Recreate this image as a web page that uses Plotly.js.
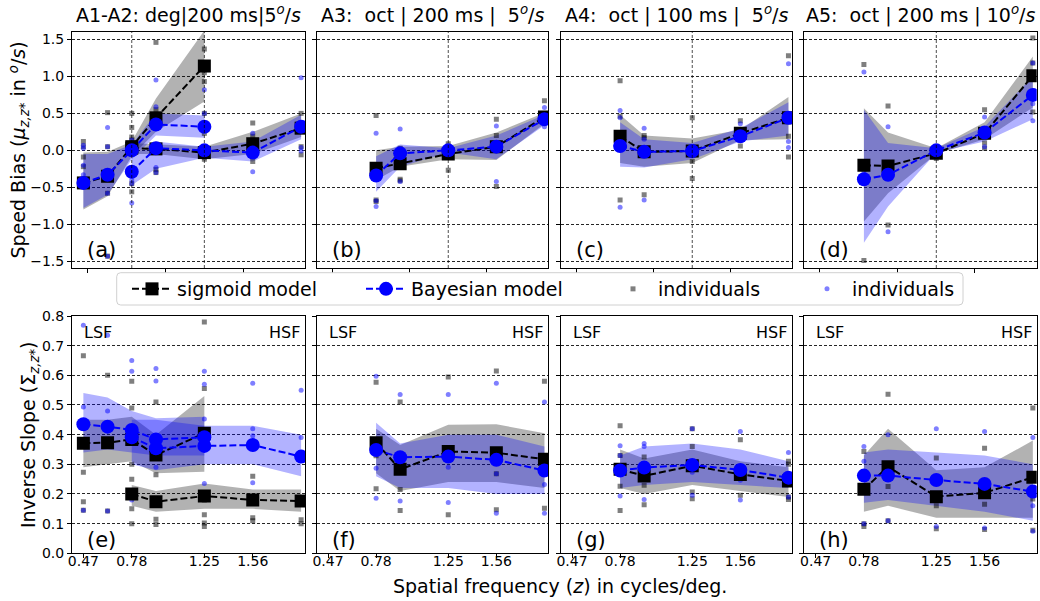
<!DOCTYPE html>
<html><head><meta charset="utf-8">
<script src="https://cdn.plot.ly/plotly-3.0.1.min.js"></script>
<style>html,body{margin:0;padding:0;background:#fff}#chart{width:1040px;height:601px}</style>
</head><body><div id="chart"></div>
<script>
// ---------------- data ----------------
// x positions (axis units) of the tested spatial frequencies
const xA1 = [0, 1, 2, 3, 5];
const xA2 = [2, 3, 5, 7, 9];
const xOct = [2, 3, 5, 7, 9];
const xIndivA12 = [0, 1, 2, 3, 5, 7, 9];
const tickVals = [0, 2, 5, 7];
const tickText = ['0.47', '0.78', '1.25', '1.56'];
const topTickVals = [0.17, 3.38, 6.6];
const refLinesA12 = [2, 5];
const refLinesOct = [5];
const biasTicks = [-1.5, -1.0, -0.5, 0.0, 0.5, 1.0, 1.5];
const slopeTicks = [0.0, 0.1, 0.2, 0.3, 0.4, 0.5, 0.6, 0.7, 0.8];
const panelTitles = [
  'A1-A2: deg|200 ms|5<sup><i>o</i></sup>/<i>s</i>',
  'A3:\u00a0\u00a0oct | 200 ms |\u00a0\u00a05<sup><i>o</i></sup>/<i>s</i>',
  'A4:\u00a0\u00a0oct | 100 ms |\u00a0\u00a05<sup><i>o</i></sup>/<i>s</i>',
  'A5:\u00a0\u00a0oct | 200 ms | 10<sup><i>o</i></sup>/<i>s</i>'
];
const panelLetters = ['(a)', '(b)', '(c)', '(d)', '(e)', '(f)', '(g)', '(h)'];

// Speed bias (top row): means and shaded bands
const biasSigA1 = [-0.44, -0.35, 0.05, 0.44, 1.14];
const biasSigA1Lo = [-0.80, -0.62, -0.08, 0.25, 0.66];
const biasSigA1Hi = [-0.03, -0.02, 0.12, 0.70, 1.62];
const biasBayA1 = [-0.44, -0.33, 0.0, 0.35, 0.32];
const biasBayA1Lo = [-0.78, -0.60, -0.12, 0.20, 0.17];
const biasBayA1Hi = [-0.05, -0.05, 0.08, 0.50, 0.47];
const biasSigA2 = [0.03, 0.02, -0.03, 0.09, 0.30];
const biasSigA2Lo = [-0.05, -0.05, -0.12, -0.05, 0.18];
const biasSigA2Hi = [0.10, 0.08, 0.05, 0.25, 0.50];
const biasBayA2 = [-0.29, 0.03, 0.0, -0.03, 0.32];
const biasBayA2Lo = [-0.47, -0.25, -0.10, -0.15, 0.15];
const biasBayA2Hi = [-0.08, 0.12, 0.05, 0.12, 0.48];
const biasSigA3 = [-0.24, -0.18, -0.05, 0.05, 0.45];
const biasSigA3Lo = [-0.40, -0.22, -0.12, -0.13, 0.36];
const biasSigA3Hi = [0.0, 0.05, 0.06, 0.24, 0.51];
const biasBayA3 = [-0.34, -0.04, 0.0, 0.05, 0.42];
const biasBayA3Lo = [-0.56, -0.22, -0.03, -0.12, 0.34];
const biasBayA3Hi = [-0.08, 0.08, 0.03, 0.20, 0.48];
const biasSigA4 = [0.19, -0.02, -0.01, 0.23, 0.44];
const biasSigA4Lo = [-0.17, -0.22, -0.17, 0.14, 0.15];
const biasSigA4Hi = [0.48, 0.20, 0.16, 0.28, 0.72];
const biasBayA4 = [0.06, -0.02, -0.01, 0.19, 0.44];
const biasBayA4Lo = [-0.22, -0.23, -0.12, 0.12, 0.20];
const biasBayA4Hi = [0.38, 0.15, 0.10, 0.30, 0.65];
const biasSigA5 = [-0.20, -0.21, -0.04, 0.23, 1.01];
const biasSigA5Lo = [-0.96, -0.58, -0.05, 0.15, 0.58];
const biasSigA5Hi = [0.57, 0.24, 0.03, 0.38, 1.27];
const biasBayA5 = [-0.39, -0.33, 0.0, 0.24, 0.75];
const biasBayA5Lo = [-1.25, -0.76, -0.03, 0.12, 0.42];
const biasBayA5Hi = [0.55, 0.10, 0.03, 0.32, 1.0];

// Inverse slope (bottom row)
const slopeSigA1 = [0.371, 0.373, 0.384, 0.331, 0.405];
const slopeSigA1Lo = [0.29, 0.30, 0.31, 0.27, 0.275];
const slopeSigA1Hi = [0.45, 0.45, 0.46, 0.40, 0.53];
const slopeBayA1 = [0.435, 0.427, 0.416, 0.384, 0.391];
const slopeBayA1Lo = [0.34, 0.35, 0.34, 0.33, 0.33];
const slopeBayA1Hi = [0.54, 0.525, 0.48, 0.455, 0.46];
const slopeSigA2 = [0.20, 0.174, 0.193, 0.18, 0.176];
const slopeSigA2Lo = [0.16, 0.14, 0.15, 0.15, 0.14];
const slopeSigA2Hi = [0.23, 0.21, 0.235, 0.215, 0.215];
const slopeBayA2 = [0.391, 0.354, 0.362, 0.365, 0.326];
const slopeBayA2Lo = [0.30, 0.28, 0.30, 0.30, 0.26];
const slopeBayA2Hi = [0.45, 0.45, 0.43, 0.43, 0.40];
const slopeSigA3 = [0.373, 0.283, 0.343, 0.339, 0.317];
const slopeSigA3Lo = [0.27, 0.21, 0.24, 0.24, 0.22];
const slopeSigA3Hi = [0.42, 0.365, 0.433, 0.435, 0.405];
const slopeBayA3 = [0.348, 0.324, 0.326, 0.315, 0.279];
const slopeBayA3Lo = [0.26, 0.22, 0.22, 0.20, 0.20];
const slopeBayA3Hi = [0.44, 0.37, 0.40, 0.40, 0.36];
const slopeSigA4 = [0.283, 0.261, 0.295, 0.266, 0.244];
const slopeSigA4Lo = [0.22, 0.20, 0.23, 0.21, 0.19];
const slopeSigA4Hi = [0.35, 0.32, 0.35, 0.31, 0.29];
const slopeBayA4 = [0.279, 0.289, 0.298, 0.281, 0.255];
const slopeBayA4Lo = [0.22, 0.23, 0.24, 0.23, 0.22];
const slopeBayA4Hi = [0.33, 0.36, 0.37, 0.35, 0.31];
const slopeSigA5 = [0.216, 0.292, 0.191, 0.204, 0.256];
const slopeSigA5Lo = [0.14, 0.16, 0.12, 0.12, 0.12];
const slopeSigA5Hi = [0.33, 0.42, 0.28, 0.29, 0.38];
const slopeBayA5 = [0.262, 0.262, 0.247, 0.234, 0.208];
const slopeBayA5Lo = [0.17, 0.18, 0.16, 0.14, 0.11];
const slopeBayA5Hi = [0.34, 0.35, 0.34, 0.33, 0.30];

// individual observers (one list per x position)
const indivBiasGrayA12 = [[0.12, 0.05, -0.09, -0.22], [0.51, 0.05, -0.58, -1.43], [0.50, 0.31, 0.18, 0.14, -0.45, -0.56], [1.46, 0.55, 0.42, -0.26, -0.30], [1.37, 1.05, 0.93, 0.50, 0.23, -0.09, -0.12], [0.37, 0.19, -0.15], [0.50, 0.05, -0.06]];
const indivBiasBlueA12 = [[0.07, 0.03, -0.20, -0.33], [0.31, 0.05, -0.58, -1.43], [0.14, 0.05, -0.40, -0.45, -0.71], [0.95, 0.59, 0.46, -0.23, -0.30], [0.82, 0.50, 0.05, -0.03], [0.23, -0.29], [0.98, 0.04, -0.01]];
const indivBiasGrayA3 = [[0.47, -0.67, -0.69], [0.03, -0.39, -0.41], [0.09, -0.27], [0.42, 0.20, -0.49], [0.67, 0.45]];
const indivBiasBlueA3 = [[0.23, -0.68, -0.76], [0.29, -0.42], [0.0], [0.33, -0.42], [0.58, 0.32]];
const indivBiasGrayA4 = [[0.94, 0.46, -0.67], [0.20, 0.17, -0.60], [0.44, -0.15, -0.38], [0.40, 0.06], [1.28, 0.19, -0.09]];
const indivBiasBlueA4 = [[0.54, 0.44, -0.77], [0.30, 0.15, -0.67], [0.0], [0.36], [1.17, 0.12, 0.04]];
const indivBiasGrayA5 = [[1.16, -0.25, -1.49], [0.60, -1.01], [-0.11], [0.55, 0.10, 0.03], [1.52, 1.18, 0.52]];
const indivBiasBlueA5 = [[1.06, -0.28], [0.32, -1.10], [0.0], [0.45, 0.05], [1.18, 0.63, 0.40]];

const indivSlopeGrayA12 = [[0.666, 0.273, 0.174, 0.145], [0.60, 0.143], [0.58, 0.49, 0.30, 0.25, 0.15, 0.10], [0.51, 0.265, 0.115, 0.097], [0.78, 0.556, 0.18, 0.13, 0.102, 0.09], [0.26, 0.12, 0.11], [0.113, 0.10]];
const indivSlopeBlueA12 = [[0.769, 0.493, 0.145], [0.735, 0.48, 0.143], [0.65, 0.614, 0.18], [0.623, 0.581, 0.29], [0.614, 0.57, 0.453, 0.235], [0.573, 0.42, 0.396, 0.238], [0.55, 0.39]];
const indivSlopeGrayA3 = [[0.577, 0.329, 0.218], [0.51, 0.215, 0.144], [0.594, 0.13], [0.615, 0.268, 0.147], [0.58, 0.152]];
const indivSlopeBlueA3 = [[0.597, 0.287, 0.186], [0.535, 0.277, 0.176], [0.535, 0.29, 0.171], [0.573, 0.268, 0.135], [0.51, 0.268, 0.232, 0.135]];
const indivSlopeGrayA4 = [[0.43, 0.33, 0.226, 0.144], [0.325, 0.229, 0.164], [0.42, 0.36, 0.207, 0.184], [0.383, 0.196], [0.31, 0.30, 0.19, 0.181]];
const indivSlopeBlueA4 = [[0.363, 0.33, 0.193], [0.37, 0.36, 0.181], [0.42, 0.273, 0.196], [0.411, 0.246, 0.18], [0.34, 0.19]];
const indivSlopeGrayA5 = [[0.343, 0.09, 0.10], [0.536, 0.225, 0.11], [0.321, 0.16, 0.083], [0.354, 0.165, 0.08], [0.49, 0.183, 0.078]];
const indivSlopeBlueA5 = [[0.36, 0.31, 0.10], [0.40, 0.11], [0.42, 0.09], [0.411, 0.085], [0.39, 0.16, 0.074]];

// ---------------- drawing ----------------
const FONT = 'DejaVu Sans, sans-serif';
const W = 1040, H = 601;
const colL = [72, 316.7, 560.7, 804.3], colR = [305, 548.3, 792.3, 1036.7];
const rowT = [32, 316], rowB = [268, 553.3];
const GRAY_BAND = 'rgba(0,0,0,0.3)', BLUE_BAND = 'rgba(0,0,255,0.3)';
const DASH = '7px,3px';
const traces = [];
const id = k => (k === 1 ? '' : String(k));

function band(k, xs, lo, hi, color) {
  traces.push({type: 'scatter', mode: 'lines', x: xs.concat(xs.slice().reverse()),
    y: hi.concat(lo.slice().reverse()), xaxis: 'x' + id(k), yaxis: 'y' + id(k),
    fill: 'toself', fillcolor: color, line: {width: 0}, showlegend: false, hoverinfo: 'skip'});
}
function model(k, xs, ys, kind, show) {
  const sig = kind === 'sig';
  traces.push({type: 'scatter', mode: 'lines+markers', x: xs, y: ys,
    xaxis: 'x' + id(k), yaxis: 'y' + id(k),
    name: sig ? 'sigmoid model' : 'Bayesian model', legend: sig ? 'legend' : 'legend2',
    showlegend: !!show,
    line: {color: sig ? 'black' : '#0000ff', width: 2, dash: DASH},
    marker: {symbol: sig ? 'square' : 'circle', size: sig ? 13 : 14, color: sig ? 'black' : '#0000ff'}});
}
function indiv(k, xs, groups, kind, show) {
  const px = [], py = [];
  groups.forEach((g, i) => g.forEach(v => { px.push(xs[i]); py.push(v); }));
  const gray = kind === 'gray';
  traces.push({type: 'scatter', mode: 'markers', x: px, y: py,
    xaxis: 'x' + id(k), yaxis: 'y' + id(k), name: 'individuals',
    legend: gray ? 'legend3' : 'legend4', showlegend: !!show,
    marker: {symbol: gray ? 'square' : 'circle', size: 5, color: gray ? 'rgba(0,0,0,0.5)' : 'rgba(0,0,255,0.5)', line: {width: 0}}});
}

// Panel a (A1 + A2)
band(1, xA1, biasSigA1Lo, biasSigA1Hi, GRAY_BAND);
band(1, xA2, biasSigA2Lo, biasSigA2Hi, GRAY_BAND);
band(1, xA1, biasBayA1Lo, biasBayA1Hi, BLUE_BAND);
band(1, xA2, biasBayA2Lo, biasBayA2Hi, BLUE_BAND);
indiv(1, xIndivA12, indivBiasGrayA12, 'gray', true);
indiv(1, xIndivA12, indivBiasBlueA12, 'blue', true);
model(1, xA1, biasSigA1, 'sig', true);
model(1, xA2, biasSigA2, 'sig');
model(1, xA1, biasBayA1, 'bay', true);
model(1, xA2, biasBayA2, 'bay');
// Panels b, c, d, f, g, h
[[2, biasSigA3, biasSigA3Lo, biasSigA3Hi, biasBayA3, biasBayA3Lo, biasBayA3Hi, indivBiasGrayA3, indivBiasBlueA3],
 [3, biasSigA4, biasSigA4Lo, biasSigA4Hi, biasBayA4, biasBayA4Lo, biasBayA4Hi, indivBiasGrayA4, indivBiasBlueA4],
 [4, biasSigA5, biasSigA5Lo, biasSigA5Hi, biasBayA5, biasBayA5Lo, biasBayA5Hi, indivBiasGrayA5, indivBiasBlueA5],
 [6, slopeSigA3, slopeSigA3Lo, slopeSigA3Hi, slopeBayA3, slopeBayA3Lo, slopeBayA3Hi, indivSlopeGrayA3, indivSlopeBlueA3],
 [7, slopeSigA4, slopeSigA4Lo, slopeSigA4Hi, slopeBayA4, slopeBayA4Lo, slopeBayA4Hi, indivSlopeGrayA4, indivSlopeBlueA4],
 [8, slopeSigA5, slopeSigA5Lo, slopeSigA5Hi, slopeBayA5, slopeBayA5Lo, slopeBayA5Hi, indivSlopeGrayA5, indivSlopeBlueA5]
].forEach(p => {
  const k = p[0];
  band(k, xOct, p[2], p[3], GRAY_BAND);
  band(k, xOct, p[5], p[6], BLUE_BAND);
  indiv(k, xOct, p[7], 'gray');
  indiv(k, xOct, p[8], 'blue');
  model(k, xOct, p[1], 'sig');
  model(k, xOct, p[4], 'bay');
});
// Panel e (A1 + A2)
band(5, xA1, slopeSigA1Lo, slopeSigA1Hi, GRAY_BAND);
band(5, xA2, slopeSigA2Lo, slopeSigA2Hi, GRAY_BAND);
band(5, xA1, slopeBayA1Lo, slopeBayA1Hi, BLUE_BAND);
band(5, xA2, slopeBayA2Lo, slopeBayA2Hi, BLUE_BAND);
indiv(5, xIndivA12, indivSlopeGrayA12, 'gray');
indiv(5, xIndivA12, indivSlopeBlueA12, 'blue');
model(5, xA1, slopeSigA1, 'sig');
model(5, xA2, slopeSigA2, 'sig');
model(5, xA1, slopeBayA1, 'bay');
model(5, xA2, slopeBayA2, 'bay');

const layout = {
  width: W, height: H, margin: {l: 0, r: 0, t: 0, b: 0, pad: 0},
  paper_bgcolor: 'white', plot_bgcolor: 'white',
  font: {family: FONT, size: 14, color: 'black'},
  annotations: [], shapes: []
};
const XR = [-0.47, 9.16];
for (let k = 1; k <= 8; k++) {
  const col = (k - 1) % 4, row = k <= 4 ? 0 : 1;
  const common = {showline: true, mirror: true, linecolor: 'black', linewidth: 1, zeroline: false,
    ticks: 'outside', ticklen: 4, tickcolor: 'black', tickwidth: 1,
    tickfont: {family: FONT, size: 14, color: 'black'}, fixedrange: true};
  const xa = Object.assign({}, common, {
    domain: [colL[col] / W, colR[col] / W], range: XR, anchor: 'y' + id(k), showgrid: false,
    tickmode: 'array', showticklabels: row === 1});
  if (row === 0) {
    xa.tickvals = topTickVals;
  } else {
    xa.tickvals = tickVals;
    xa.ticktext = tickText;
    xa.ticklabelstandoff = -9;
  }
  layout['xaxis' + id(k)] = xa;
  const ticksY = row === 0 ? biasTicks : slopeTicks;
  const ya = Object.assign({}, common, {
    domain: [1 - rowB[row] / H, 1 - rowT[row] / H],
    range: row === 0 ? [-1.59, 1.6] : [0, 0.8], anchor: 'x' + id(k),
    tickmode: 'array', tickvals: ticksY,
    showticklabels: col === 0,
    showgrid: true, gridcolor: 'rgba(0,0,0,0.85)', gridwidth: 1, griddash: '3px,2px'});
  if (col === 0) ya.ticktext = ticksY.map(v => v.toFixed(1).replace('-', '\u2212'));
  layout['yaxis' + id(k)] = ya;
  // panel letters
  layout.annotations.push({xref: 'paper', yref: 'paper', x: (colL[col] + 13) / W,
    y: 1 - (row === 0 ? 250 : 540) / H, xanchor: 'left', yanchor: 'middle', showarrow: false,
    text: panelLetters[k - 1], font: {family: FONT, size: 21, color: 'black'}});
  if (row === 0) {
    layout.annotations.push({xref: 'paper', yref: 'paper', x: (colL[col] + colR[col]) / 2 / W,
      y: 1 - 15 / H, xanchor: 'center', yanchor: 'middle', showarrow: false,
      text: panelTitles[col], font: {family: FONT, size: 19, color: 'black'}});
    (col === 0 ? refLinesA12 : refLinesOct).forEach(xv => layout.shapes.push({
      type: 'line', xref: 'x' + id(k), yref: 'y' + id(k) + ' domain', x0: xv, x1: xv, y0: 0, y1: 1,
      line: {color: 'rgba(0,0,0,0.7)', width: 1, dash: '3px,2px'}, layer: 'above'}));
  } else {
    layout.annotations.push({xref: 'paper', yref: 'paper', x: (colL[col] + 10) / W,
      y: 1 - 333 / H, xanchor: 'left', yanchor: 'middle', showarrow: false,
      text: 'LSF', font: {family: FONT, size: 16, color: 'black'}});
    layout.annotations.push({xref: 'paper', yref: 'paper', x: (colR[col] - 3) / W,
      y: 1 - 333 / H, xanchor: 'right', yanchor: 'middle', showarrow: false,
      text: 'HSF', font: {family: FONT, size: 16, color: 'black'}});
  }
}
// axis titles
layout.annotations.push({xref: 'paper', yref: 'paper', x: 18.5 / W, y: 1 - 150 / H,
  xanchor: 'center', yanchor: 'middle', textangle: -90, showarrow: false,
  text: 'Speed Bias (<i>μ<sub>z,z*</sub></i> in <sup><i>o</i></sup>/<i>s</i>)',
  font: {family: FONT, size: 19, color: 'black'}});
layout.annotations.push({xref: 'paper', yref: 'paper', x: 29 / W, y: 1 - 435 / H,
  xanchor: 'center', yanchor: 'middle', textangle: -90, showarrow: false,
  text: 'Inverse Slope (Σ<sub><i>z,z</i>*</sub>)',
  font: {family: FONT, size: 19, color: 'black'}});
layout.annotations.push({xref: 'paper', yref: 'paper', x: 560 / W, y: 1 - 586 / H,
  xanchor: 'center', yanchor: 'middle', showarrow: false,
  text: 'Spatial frequency (<i>z</i>) in cycles/deg.',
  font: {family: FONT, size: 19, color: 'black'}});

// legend frame
const lx0 = 116.7 / W, lx1 = 963 / W, ly0 = 1 - 305 / H, ly1 = 1 - 272.7 / H;
const rx = 4 / W, ry = 4 / H;
layout.shapes.push({type: 'path', xref: 'paper', yref: 'paper', layer: 'above',
  path: `M${lx0 + rx},${ly1} L${lx1 - rx},${ly1} Q${lx1},${ly1} ${lx1},${ly1 - ry} L${lx1},${ly0 + ry} Q${lx1},${ly0} ${lx1 - rx},${ly0} L${lx0 + rx},${ly0} Q${lx0},${ly0} ${lx0},${ly0 + ry} L${lx0},${ly1 - ry} Q${lx0},${ly1} ${lx0 + rx},${ly1} Z`,
  fillcolor: 'rgba(255,255,255,0.85)', line: {color: '#d0d0d0', width: 1}});
const legBase = {orientation: 'h', xanchor: 'left', yanchor: 'middle', y: 1 - 289 / H,
  bgcolor: 'rgba(0,0,0,0)', borderwidth: 0, font: {family: FONT, size: 19, color: 'black'},
  itemwidth: 40, xref: 'paper', yref: 'paper'};
layout.legend = Object.assign({}, legBase, {x: 127 / W});
layout.legend2 = Object.assign({}, legBase, {x: 361 / W});
layout.legend3 = Object.assign({}, legBase, {x: 608 / W});
layout.legend4 = Object.assign({}, legBase, {x: 802 / W});

Plotly.newPlot('chart', traces, layout, {staticPlot: true, displayModeBar: false});
</script></body></html>
